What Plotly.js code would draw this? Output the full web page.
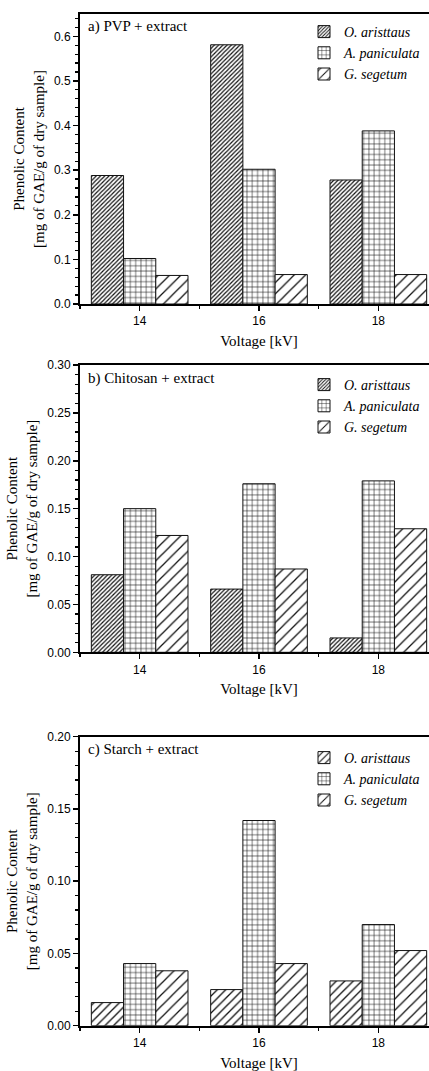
<!DOCTYPE html>
<html>
<head>
<meta charset="utf-8">
<script src="https://cdn.plot.ly/plotly-3.0.1.min.js"></script>
<style>
html,body{margin:0;padding:0;background:#fff;overflow:hidden;width:429px;height:1071px;}
#chart{width:440px;height:1071px;}
</style>
</head>
<body>
<div id="chart"></div>
<script>
// ---- data ----
const voltage = [14, 16, 18];
const seriesNames = ["O. aristtaus", "A. paniculata", "G. segetum"];
const panelTitles = ["a) PVP + extract", "b) Chitosan + extract", "c) Starch + extract"];
const xTitle = "Voltage [kV]";
const yTitle = "Phenolic Content<br>[mg of GAE/g of dry sample]";

const pvpO = [0.288, 0.581, 0.278];
const pvpA = [0.102, 0.302, 0.388];
const pvpG = [0.064, 0.066, 0.066];

const chiO = [0.081, 0.066, 0.015];
const chiA = [0.150, 0.176, 0.179];
const chiG = [0.122, 0.087, 0.129];

const staO = [0.016, 0.025, 0.031];
const staA = [0.043, 0.142, 0.070];
const staG = [0.038, 0.043, 0.052];

const yTicks1 = [0, 0.1, 0.2, 0.3, 0.4, 0.5, 0.6];
const yTicks2 = [0, 0.05, 0.10, 0.15, 0.20, 0.25, 0.30];
const yTicks3 = [0, 0.05, 0.10, 0.15, 0.20];

// ---- styles ----
const serif = "Liberation Serif";
const sans = "Liberation Sans";

function pat(shape, size, solidity) {
  return {shape: shape, size: size, solidity: solidity, fgcolor: "#111", bgcolor: "#fff", fillmode: "replace"};
}
const patterns = [
  [pat("/", 3, 0.4), pat("+", 5.3, 0.2), pat("/", 8, 0.16)],
  [pat("/", 3, 0.4), pat("+", 5.3, 0.2), pat("/", 8, 0.16)],
  [pat("/", 6, 0.22), pat("+", 5.3, 0.2), pat("/", 8, 0.16)]
];

const panels = [
  {vals: [pvpO, pvpA, pvpG], ticks: yTicks1},
  {vals: [chiO, chiA, chiG], ticks: yTicks2},
  {vals: [staO, staA, staG], ticks: yTicks3}
];

const traces = [];
panels.forEach((p, pi) => {
  const sfx = pi === 0 ? "" : String(pi + 1);
  p.vals.forEach((v, si) => {
    traces.push({
      type: "bar",
      x: voltage,
      y: v,
      name: seriesNames[si],
      xaxis: "x" + sfx,
      yaxis: "y" + sfx,
      legend: "legend" + sfx,
      marker: {color: "#fff", line: {color: "#111", width: 1}, pattern: patterns[pi][si]},
      hoverinfo: "skip"
    });
  });
});

const H = 1071;
const doms = [[1 - 304 / H, 1 - 14 / H], [1 - 652.3 / H, 1 - 365 / H], [1 - 1025.7 / H, 1 - 736.7 / H]];
const yRanges = [[0, 0.65], [0, 0.30], [0, 0.20]];
const yFmt = [".1f", ".2f", ".2f"];
const yMinor = [0.02, 0.01, 0.01];
const legendTops = [16, 369, 742];
const annY = [26, 378.3, 749.3];

const layout = {
  width: 440, height: H,
  margin: {l: 80, r: 2, t: 0, b: 0},
  paper_bgcolor: "#fff", plot_bgcolor: "#fff",
  barmode: "group", bargap: 0.19, bargroupgap: 0,
  font: {family: sans, color: "#000", size: 12},
  annotations: []
};

panels.forEach((p, pi) => {
  const sfx = pi === 0 ? "" : String(pi + 1);
  layout["xaxis" + sfx] = {
    domain: [0, 1], anchor: "y" + sfx, range: [13, 19],
    tickvals: voltage, ticktext: voltage.map(String),
    ticks: "outside", ticklen: 5, tickwidth: 1.5, tickcolor: "#000",
    minor: {dtick: 1, tick0: 13, ticks: "outside", ticklen: 3, tickwidth: 1.2, tickcolor: "#000"},
    showline: true, linewidth: 2, linecolor: "#000", mirror: true,
    showgrid: false, zeroline: false, automargin: false,
    tickfont: {family: sans, size: 12, color: "#000"},
    title: {text: xTitle, font: {family: serif, size: 15, color: "#000"}, standoff: 8}
  };
  layout["yaxis" + sfx] = {
    domain: doms[pi], anchor: "x" + sfx, range: yRanges[pi],
    tickvals: p.ticks, tickformat: yFmt[pi],
    ticks: "outside", ticklen: 5, tickwidth: 1.5, tickcolor: "#000",
    minor: {dtick: yMinor[pi], tick0: 0, ticks: "outside", ticklen: 3, tickwidth: 1.2, tickcolor: "#000"},
    showline: true, linewidth: 2, linecolor: "#000",
    showgrid: false, zeroline: false, automargin: false,
    tickfont: {family: sans, size: 12, color: "#000"},
    title: {text: yTitle, font: {family: serif, size: 15, color: "#000"}, standoff: 6}
  };
  layout["legend" + sfx] = {
    x: (304 - 80) / 358, xanchor: "left", xref: "paper",
    y: 1 - legendTops[pi] / H, yanchor: "top", yref: "paper",
    bgcolor: "rgba(0,0,0,0)", borderwidth: 0,
    font: {family: serif, size: 14, color: "#000", style: "italic"},
    tracegroupgap: 0, itemwidth: 30
  };
  layout.annotations.push({
    xref: "paper", yref: "paper", x: (86 - 80) / 358, y: 1 - annY[pi] / H,
    xanchor: "left", yanchor: "middle", showarrow: false,
    text: panelTitles[pi], font: {family: serif, size: 15, color: "#000"}
  });
});

Plotly.newPlot("chart", traces, layout, {displayModeBar: false, staticPlot: true});
</script>
</body>
</html>
